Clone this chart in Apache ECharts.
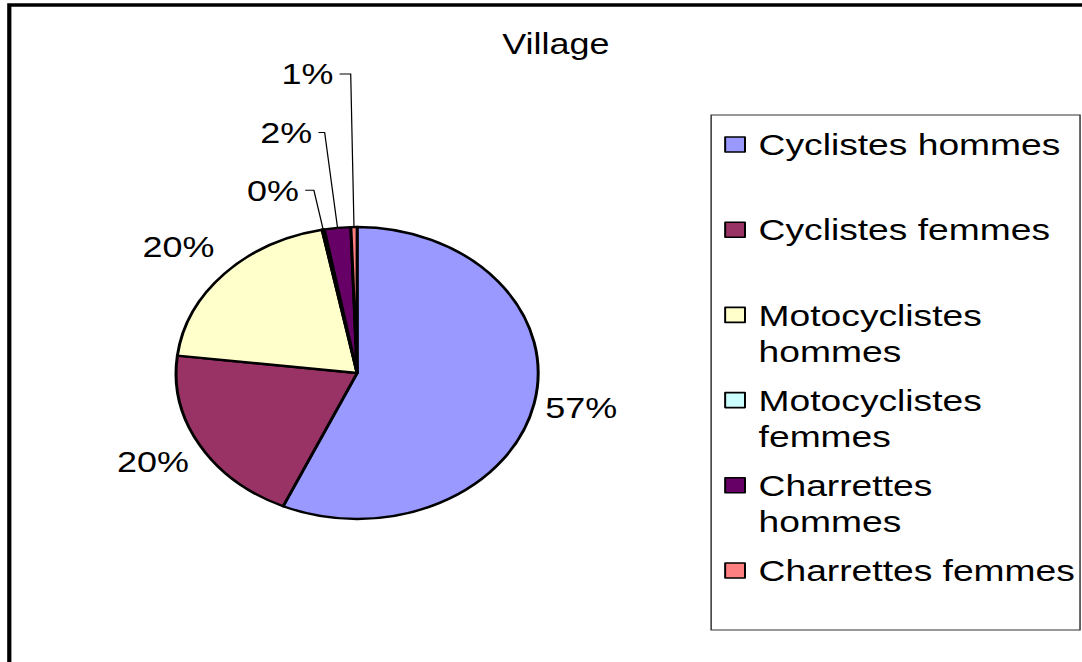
<!DOCTYPE html>
<html>
<head>
<meta charset="utf-8">
<title>Village</title>
<script src="https://fastly.jsdelivr.net/npm/echarts@6/dist/echarts.min.js"></script>
<style>
  html, body { margin: 0; padding: 0; background: #fff; overflow: hidden; }
  /* the original picture is stretched sideways, so draw narrow and stretch */
  #main { width: 873px; height: 662px; transform: scaleX(1.24); transform-origin: 0 0; }
</style>
</head>
<body>
<div id="main"></div>
<script type="text/javascript">
  // data
  var categories = ['Cyclistes hommes', 'Cyclistes femmes', 'Motocyclistes hommes',
                    'Motocyclistes femmes', 'Charrettes hommes', 'Charrettes femmes'];
  var shares = [56.7, 20.2, 20.0, 0.2, 2.35, 0.55];
  var legendText = ['Cyclistes hommes', 'Cyclistes femmes', 'Motocyclistes\nhommes',
                    'Motocyclistes\nfemmes', 'Charrettes\nhommes', 'Charrettes femmes'];

  // styles
  var colors = ['#9999FF', '#993366', '#FFFFCC', '#CCFFFF', '#660066', '#FF8080'];
  var leaderShow = [false, false, false, true, true, true];
  var leaderLen = [4, 4, 4, 40, 96, 153];
  var leaderLen2 = [0, 0, 0, 7, 5, 9];
  var labelShift = [3, 15, -24, 0, 0, 0];
  var FONT = '"Liberation Sans", Arial, sans-serif';

  var pieData = categories.map(function (name, i) {
    return {
      name: name,
      value: shares[i],
      itemStyle: { color: colors[i] },
      labelLine: { show: leaderShow[i], length: leaderLen[i], length2: leaderLen2[i] }
    };
  });

  var myChart = echarts.init(document.getElementById('main'), null, { renderer: 'svg' });
  var option = {
    animation: false,
    textStyle: { fontFamily: FONT },
    title: {
      text: 'Village',
      left: 405,
      top: 29,
      padding: 0,
      textStyle: { fontSize: 29, fontWeight: 'normal', color: '#000', fontFamily: FONT }
    },
    graphic: [
      {
        type: 'rect',
        shape: { x: 7.5, y: 5, width: 900, height: 700 },
        style: { fill: 'none', stroke: '#000', lineWidth: 3.4 },
        silent: true
      },
      {
        type: 'rect',
        shape: { x: 573.5, y: 115, width: 297.5, height: 515 },
        style: { fill: 'none', stroke: '#333', lineWidth: 1.2 },
        silent: true
      }
    ],
    legend: {
      orient: 'vertical',
      left: 584,
      top: 90.5,
      padding: 0,
      itemWidth: 16,
      itemHeight: 15,
      itemGap: -22.8,
      icon: 'rect',
      selectedMode: false,
      itemStyle: { borderColor: '#000', borderWidth: 1.6 },
      textStyle: { fontSize: 30, lineHeight: 36, color: '#000', fontFamily: FONT, padding: [0, 0, 0, 6] },
      formatter: function (name) {
        var t = legendText[categories.indexOf(name)];
        // three lines each, the first text line sits in the middle next to the box
        return '\n' + t + (t.indexOf('\n') < 0 ? '\n' : '');
      },
      data: categories
    },
    series: [
      {
        type: 'pie',
        center: [288, 373],
        radius: 146,
        startAngle: 90,
        clockwise: true,
        avoidLabelOverlap: false,
        emphasis: { disabled: true },
        itemStyle: { borderColor: '#000', borderWidth: 2.4 },
        label: {
          position: 'outside',
          fontSize: 29,
          color: '#000',
          fontFamily: FONT,
          distanceToLabelLine: 5,
          formatter: function (p) { return Math.round(p.percent) + '%'; }
        },
        labelLine: { smooth: false, lineStyle: { color: '#000', width: 1 } },
        labelLayout: function (p) { return { dy: labelShift[p.dataIndex] }; },
        data: pieData
      }
    ]
  };
  myChart.setOption(option);
</script>
</body>
</html>
